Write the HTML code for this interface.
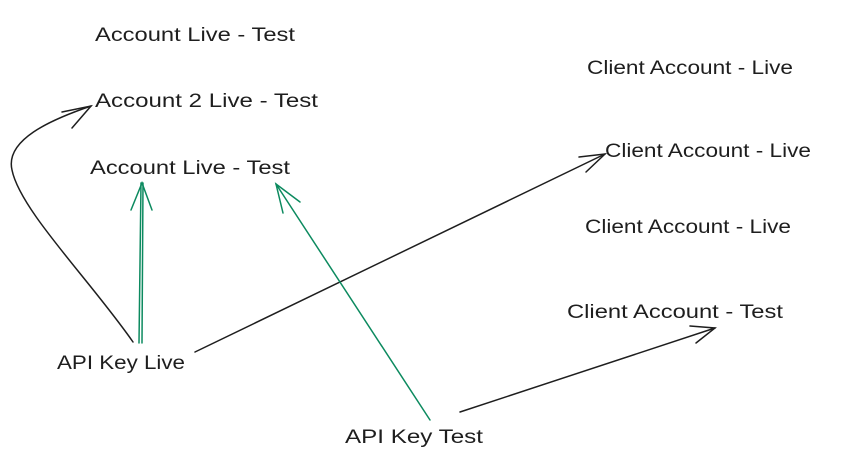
<!DOCTYPE html>
<html><head><style>
html,body{margin:0;padding:0;background:#fff;width:856px;height:461px;overflow:hidden}
svg{display:block}
text{font-family:"Liberation Sans",sans-serif;font-size:19px;fill:#1e1e1e}
</style></head><body>
<svg width="856" height="461" viewBox="0 0 856 461" xmlns="http://www.w3.org/2000/svg">
<text x="95" y="41" textLength="200" lengthAdjust="spacingAndGlyphs">Account Live - Test</text>
<text x="95" y="107" textLength="223" lengthAdjust="spacingAndGlyphs">Account 2 Live - Test</text>
<text x="90" y="174" textLength="200" lengthAdjust="spacingAndGlyphs">Account Live - Test</text>
<text x="587" y="74" textLength="206" lengthAdjust="spacingAndGlyphs">Client Account - Live</text>
<text x="605" y="157" textLength="206" lengthAdjust="spacingAndGlyphs">Client Account - Live</text>
<text x="585" y="233" textLength="206" lengthAdjust="spacingAndGlyphs">Client Account - Live</text>
<text x="567" y="318" textLength="216" lengthAdjust="spacingAndGlyphs">Client Account - Test</text>
<text x="57" y="369" textLength="128" lengthAdjust="spacingAndGlyphs">API Key Live</text>
<text x="345" y="443" textLength="138" lengthAdjust="spacingAndGlyphs">API Key Test</text>
<g fill="none" stroke="#1e1e1e" stroke-width="1.5" stroke-linecap="round">
<path d="M133 342 C90 280 20 210 12 170 C5 140 50 120 91 106"/>
<path d="M62 112 L91 106 L72 128"/>
<path d="M195 352 L605 154"/>
<path d="M579 157 L605 154 L586 172"/>
<path d="M460 412 L715 328"/>
<path d="M690 326 L715 328 L696 343"/>
</g>
<g fill="none" stroke="#0c8a5f" stroke-width="1.5" stroke-linecap="round">
<path d="M139 343 L141 183"/><path d="M142 343 L143 183"/>
<path d="M131 210 L142 183 L152 210"/>
<path d="M430 420 L276 184"/>
<path d="M283 213 L276 184 L300 202"/>
</g>
</svg>
</body></html>
